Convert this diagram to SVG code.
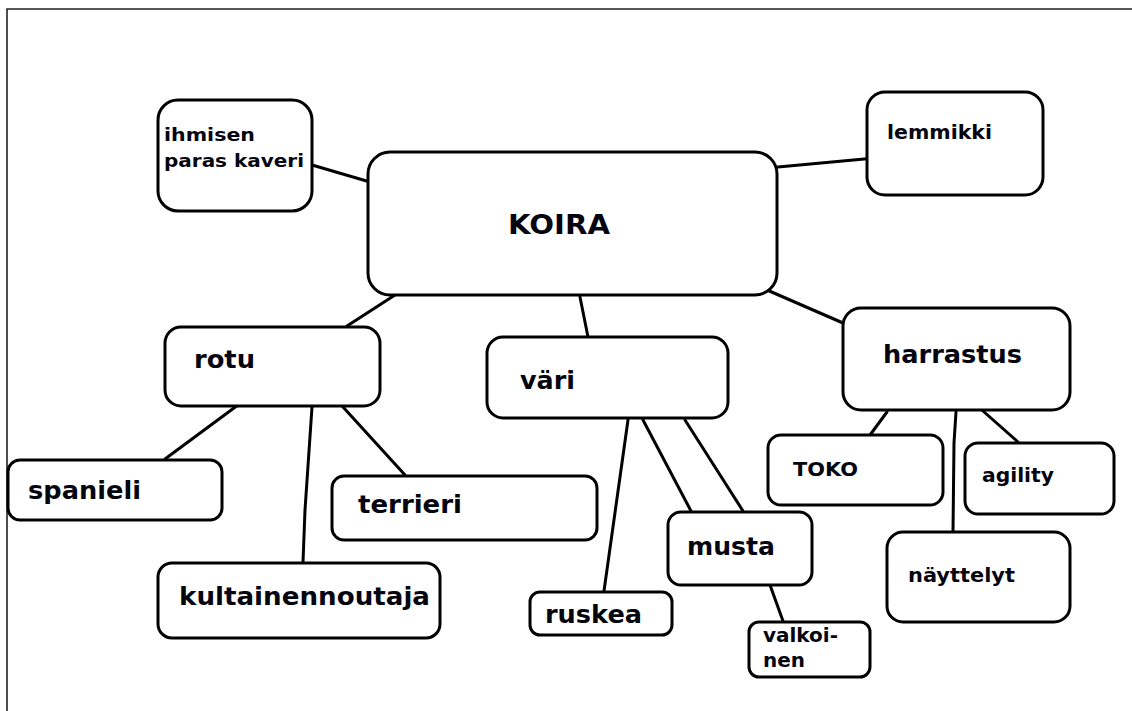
<svg xmlns="http://www.w3.org/2000/svg" width="1132" height="711" viewBox="0 0 1132 711">
  <style>
    .frame { fill: none; stroke: #222; stroke-width: 1.6; }
    .box { fill: #fff; stroke: #000; stroke-width: 3; }
    .link { fill: none; stroke: #000; stroke-width: 3; stroke-linecap: round; stroke-linejoin: round; }
    .lbl { font-family: "DejaVu Sans", "Open Sans", sans-serif; font-weight: bold; fill: #050510; }
  </style>
  <rect width="1132" height="711" fill="#fff"/>
  <!-- page frame: only top and left edges are visible -->
  <path class="frame" d="M1132,9 H7 V711"/>

  <g id="connectors">
    <line class="link" x1="312" y1="165" x2="370" y2="182"/>
    <line class="link" x1="778" y1="167" x2="875" y2="158"/>
    <line class="link" x1="767" y1="290" x2="843" y2="323"/>
    <line class="link" x1="580" y1="297" x2="588" y2="337"/>
    <line class="link" x1="395" y1="295" x2="347" y2="326"/>
    <line class="link" x1="238" y1="405" x2="165" y2="459"/>
    <line class="link" x1="343" y1="407" x2="405" y2="475"/>
    <polyline class="link" points="312,407 305,510 303,562"/>
    <line class="link" x1="628" y1="420" x2="604" y2="591"/>
    <line class="link" x1="643" y1="420" x2="691" y2="511"/>
    <line class="link" x1="685" y1="420" x2="743" y2="511"/>
    <line class="link" x1="770" y1="585" x2="783" y2="621"/>
    <line class="link" x1="887" y1="412" x2="870" y2="435"/>
    <line class="link" x1="983" y1="411" x2="1018" y2="442"/>
    <polyline class="link" points="956,412 954,443 953,532"/>
  </g>

  <g id="ihmisen">
    <rect class="box" x="158" y="100" width="154" height="111" rx="20"/>
    <text class="lbl" x="164" y="141" font-size="18.5" textLength="91" lengthAdjust="spacingAndGlyphs">ihmisen</text>
    <text class="lbl" x="164" y="167" font-size="18.5" textLength="140" lengthAdjust="spacingAndGlyphs">paras kaveri</text>
  </g>
  <g id="koira">
    <rect class="box" x="368" y="152" width="409" height="143" rx="22"/>
    <text class="lbl" x="508" y="234" font-size="27" textLength="102" lengthAdjust="spacingAndGlyphs">KOIRA</text>
  </g>
  <g id="lemmikki">
    <rect class="box" x="867" y="92" width="176" height="103" rx="18"/>
    <text class="lbl" x="887" y="139" font-size="20" textLength="105" lengthAdjust="spacingAndGlyphs">lemmikki</text>
  </g>
  <g id="rotu">
    <rect class="box" x="165" y="327" width="215" height="79" rx="16"/>
    <text class="lbl" x="194" y="368" font-size="25" textLength="61" lengthAdjust="spacingAndGlyphs">rotu</text>
  </g>
  <g id="vari">
    <rect class="box" x="487" y="337" width="241" height="81" rx="16"/>
    <text class="lbl" x="520" y="389" font-size="25" textLength="55" lengthAdjust="spacingAndGlyphs">väri</text>
  </g>
  <g id="harrastus">
    <rect class="box" x="843" y="308" width="227" height="102" rx="18"/>
    <text class="lbl" x="883" y="363" font-size="25" textLength="139" lengthAdjust="spacingAndGlyphs">harrastus</text>
  </g>
  <g id="spanieli">
    <rect class="box" x="8" y="460" width="214" height="60" rx="12"/>
    <text class="lbl" x="28" y="499" font-size="25" textLength="113" lengthAdjust="spacingAndGlyphs">spanieli</text>
  </g>
  <g id="terrieri">
    <rect class="box" x="332" y="476" width="265" height="64" rx="12"/>
    <text class="lbl" x="358" y="513" font-size="25" textLength="104" lengthAdjust="spacingAndGlyphs">terrieri</text>
  </g>
  <g id="kultainennoutaja">
    <rect class="box" x="158" y="563" width="282" height="75" rx="14"/>
    <text class="lbl" x="179" y="605" font-size="25.5" textLength="251" lengthAdjust="spacingAndGlyphs">kultainennoutaja</text>
  </g>
  <g id="ruskea">
    <rect class="box" x="530" y="592" width="142" height="43" rx="10"/>
    <text class="lbl" x="545" y="623" font-size="25" textLength="97" lengthAdjust="spacingAndGlyphs">ruskea</text>
  </g>
  <g id="musta">
    <rect class="box" x="668" y="512" width="144" height="73" rx="13"/>
    <text class="lbl" x="687" y="555" font-size="25" textLength="88" lengthAdjust="spacingAndGlyphs">musta</text>
  </g>
  <g id="valkoinen">
    <rect class="box" x="749" y="622" width="121" height="55" rx="10"/>
    <text class="lbl" x="763" y="642" font-size="19" textLength="75" lengthAdjust="spacingAndGlyphs">valkoi-</text>
    <text class="lbl" x="763" y="667" font-size="19" textLength="42" lengthAdjust="spacingAndGlyphs">nen</text>
  </g>
  <g id="toko">
    <rect class="box" x="768" y="435" width="175" height="70" rx="13"/>
    <text class="lbl" x="793" y="476" font-size="20" textLength="65" lengthAdjust="spacingAndGlyphs">TOKO</text>
  </g>
  <g id="agility">
    <rect class="box" x="965" y="443" width="149" height="71" rx="13"/>
    <text class="lbl" x="982" y="482" font-size="20" textLength="72" lengthAdjust="spacingAndGlyphs">agility</text>
  </g>
  <g id="nayttelyt">
    <rect class="box" x="887" y="532" width="183" height="90" rx="16"/>
    <text class="lbl" x="908" y="582" font-size="20" textLength="107" lengthAdjust="spacingAndGlyphs">näyttelyt</text>
  </g>
</svg>
